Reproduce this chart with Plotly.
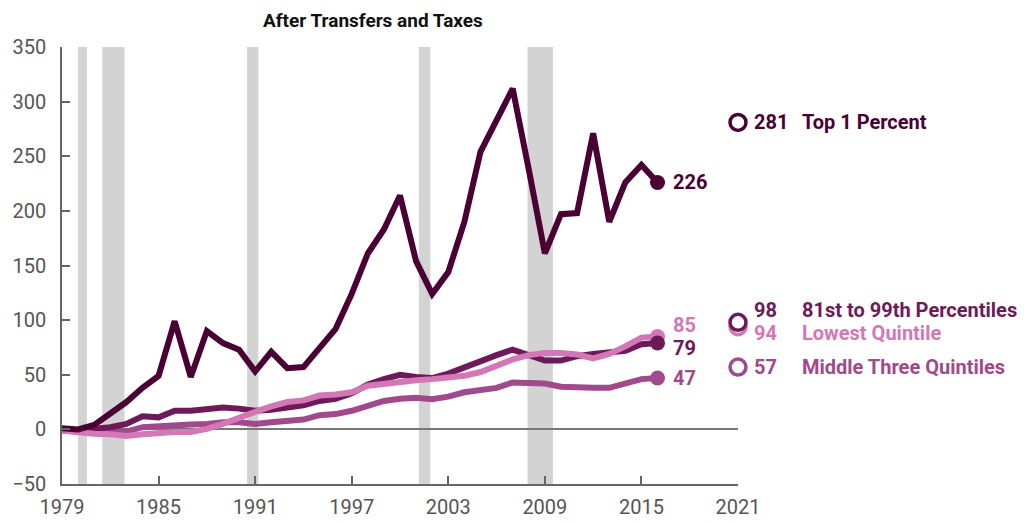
import plotly.graph_objects as go

years = list(range(1979, 2017))
top1 = [1, 0, 4, 14, 25, 38, 49, 99, 48, 90, 79, 73, 53, 71, 56, 57, 74, 92, 124, 161,
        183, 214, 154, 124, 144, 190, 254, 283, 312, 238, 161, 197, 198, 271, 190, 226, 242, 226]
p81_99 = [0.6, -1, 0.5, 2, 5, 12, 11, 17, 17, 19, 20, 19, 17, 18, 20, 22, 26, 28, 33, 41,
          46, 50, 48, 47, 51, 57, 63, 68, 73, 68, 63, 63, 67, 69, 70, 72, 78, 79]
lowest = [-1, -3, -4, -4.5, -6, -4.5, -3, -2.5, -2.5, 0.5, 5, 11, 16, 21, 25, 26.5, 31, 32, 34, 40,
          42, 43, 45, 46, 47, 49, 52.5, 58.5, 64, 68, 70, 70, 68.5, 65, 69, 76, 84, 85]
middle = [-1, -2.5, -3, -2.5, -2, 2, 3, 4.5, 4.5, 5, 6.5, 6.5, 5, 6.5, 7.5, 9, 13, 14, 17, 22,
          26, 28, 29, 27.5, 30, 34, 36, 38, 43, 42.5, 42, 39, 38, 38, 38, 42, 46, 47]

end_labels = {"top1": "226", "p81": "79", "low": "85", "mid": "47"}
legend_year = 2021
legend_values = {"top1": 281, "p81": 98, "low": 94, "mid": 57}
legend_names = {"top1": "Top 1 Percent", "p81": "81st to 99th Percentiles",
                "low": "Lowest Quintile", "mid": "Middle Three Quintiles"}

rec_start = [1980.0, 1981.5, 1990.5, 2001.17, 2007.92]
rec_end = [1980.55, 1982.88, 1991.2, 2001.88, 2009.5]

x_ticks = list(range(1979, 2022, 6))
y_ticks = list(range(-50, 351, 50))

colors = {"top1": "#4a0033", "p81": "#6e1a5a", "low": "#d477b6", "mid": "#a04a8b"}
series = {"top1": top1, "p81": p81_99, "low": lowest, "mid": middle}

fig = go.Figure()

for key in ["mid", "p81", "low", "top1"]:
    fig.add_trace(go.Scatter(x=years, y=series[key], mode="lines",
                             line=dict(color=colors[key], width=6),
                             showlegend=False, hoverinfo="skip"))

for key in ["mid", "low", "p81", "top1"]:
    fig.add_trace(go.Scatter(x=[years[-1]], y=[series[key][-1]], mode="markers",
                             marker=dict(color=colors[key], size=15),
                             showlegend=False, hoverinfo="skip", cliponaxis=False))

for key in ["mid", "low", "p81", "top1"]:
    fig.add_trace(go.Scatter(x=[legend_year], y=[legend_values[key]], mode="markers",
                             marker=dict(color="white", size=16,
                                         line=dict(color=colors[key], width=3.5)),
                             showlegend=False, hoverinfo="skip", cliponaxis=False))

for s, e in zip(rec_start, rec_end):
    fig.add_shape(type="rect", xref="x", yref="paper", x0=s, x1=e, y0=0, y1=1,
                  fillcolor="#d3d3d3", line=dict(width=0), layer="below")

lab_font = "Roboto"
end_yshift = {"top1": 0, "p81": -5, "low": 12, "mid": 0}
for key in ["top1", "p81", "low", "mid"]:
    fig.add_annotation(x=years[-1], y=series[key][-1], text="<b>%s</b>" % end_labels[key],
                       xanchor="left", yanchor="middle", xshift=13, yshift=end_yshift[key],
                       showarrow=False, font=dict(family=lab_font, size=20, color=colors[key]))

leg_yshift = {"top1": 0, "p81": 12, "low": -6, "mid": 0}
for key in ["top1", "p81", "low", "mid"]:
    fig.add_annotation(x=legend_year, y=legend_values[key], text="<b>%d</b>" % legend_values[key],
                       xanchor="left", yanchor="middle", xshift=14, yshift=leg_yshift[key],
                       showarrow=False, font=dict(family=lab_font, size=20, color=colors[key]))
    fig.add_annotation(x=legend_year, y=legend_values[key], text="<b>%s</b>" % legend_names[key],
                       xanchor="left", yanchor="middle", xshift=62, yshift=leg_yshift[key],
                       showarrow=False, font=dict(family=lab_font, size=20, color=colors[key]))

fig.add_annotation(xref="paper", yref="paper", x=0.46, y=1, yshift=27,
                   text="<b>After Transfers and Taxes</b>", showarrow=False,
                   xanchor="center", yanchor="middle",
                   font=dict(family=lab_font, size=19, color="#111111"))

fig.update_layout(
    width=1021, height=515,
    margin=dict(l=54, r=291, t=39, b=39),
    paper_bgcolor="white", plot_bgcolor="white",
    font=dict(family="Roboto", size=20, color="#555555"),
    xaxis=dict(range=[1979, 2021], tickvals=x_ticks, ticks="inside", ticklen=8,
               tickcolor="#666666", tickwidth=1.5, showline=True, linecolor="#666666",
               linewidth=1.5, showgrid=False, zeroline=False, ticklabelstandoff=4,
               automargin=False),
    yaxis=dict(range=[-50, 350], tickvals=y_ticks, ticks="inside", ticklen=8,
               tickcolor="#666666", tickwidth=1.5, showline=True, linecolor="#666666",
               linewidth=1.5, showgrid=False, zeroline=True, zerolinecolor="#777777",
               zerolinewidth=2, ticklabelstandoff=10, automargin=False),
)

fig.write_html("out.html")
